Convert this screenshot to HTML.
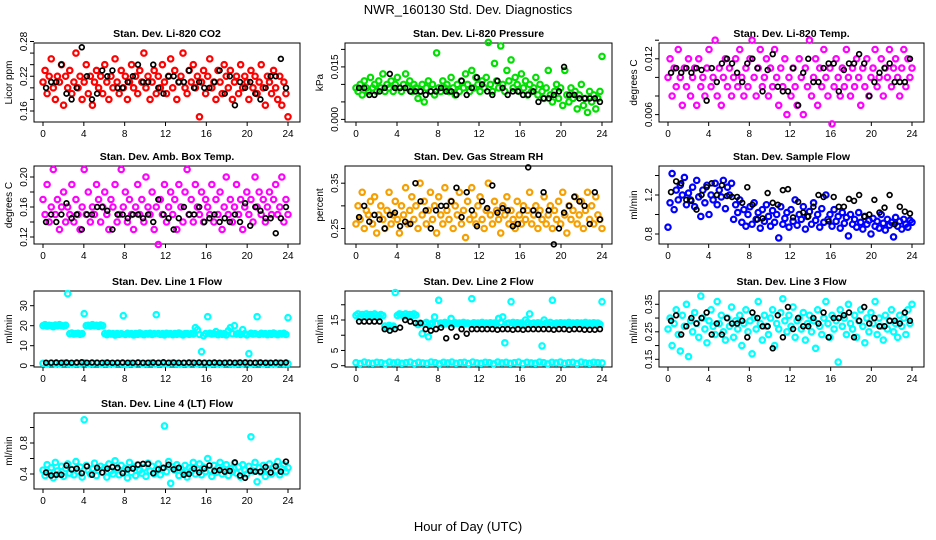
<!DOCTYPE html>
<html><head><meta charset="utf-8"><style>
body{margin:0;background:#fff}
svg{display:block;font-family:"Liberation Sans",sans-serif}
</style></head><body>
<svg id="chart" width="936" height="540" viewBox="0 0 936 540" xmlns="http://www.w3.org/2000/svg">
<rect width="936" height="540" fill="#fff"/>
<text x="468" y="14" text-anchor="middle" font-size="13">NWR_160130  Std. Dev. Diagnostics</text>
<text x="468" y="531" text-anchor="middle" font-size="13">Hour of Day (UTC)</text>
</svg>
<script>
const xTicks=[0,4,8,12,16,20,24];
const co2Color=[0.21,0.23,0.19,0.22,0.25,0.20,0.18,0.22,0.21,0.24,0.17,0.22,0.20,0.23,0.19,0.21,0.26,0.20,0.22,0.18,0.21,0.24,0.19,0.22,0.17,0.21,0.23,0.20,0.22,0.19,0.24,0.21,0.18,0.22,0.20,0.25,0.21,0.19,0.23,0.20,0.22,0.18,0.21,0.24,0.20,0.22,0.19,0.23,0.21,0.26,0.20,0.22,0.18,0.21,0.23,0.19,0.22,0.20,0.24,0.21,0.19,0.22,0.25,0.20,0.23,0.18,0.21,0.22,0.26,0.20,0.19,0.23,0.21,0.24,0.20,0.22,0.15,0.21,0.23,0.19,0.22,0.25,0.20,0.21,0.18,0.23,0.21,0.19,0.24,0.22,0.20,0.23,0.18,0.21,0.22,0.19,0.24,0.20,0.22,0.21,0.18,0.23,0.20,0.22,0.19,0.21,0.24,0.20,0.17,0.22,0.21,0.19,0.23,0.20,0.18,0.22,0.17,0.21,0.19,0.15];
const co2Black=[0.20,0.21,0.21,0.24,0.19,0.18,0.20,0.27,0.22,0.18,0.19,0.23,0.22,0.23,0.20,0.20,0.21,0.22,0.24,0.21,0.21,0.24,0.20,0.19,0.22,0.22,0.21,0.21,0.23,0.20,0.21,0.20,0.20,0.21,0.23,0.19,0.22,0.17,0.21,0.20,0.21,0.19,0.18,0.20,0.22,0.22,0.25,0.20];
const presColor=[0.009,0.008,0.010,0.007,0.011,0.009,0.008,0.012,0.009,0.010,0.008,0.011,0.009,0.013,0.008,0.010,0.009,0.011,0.008,0.010,0.012,0.009,0.008,0.010,0.013,0.009,0.011,0.008,0.010,0.009,0.006,0.008,0.010,0.005,0.009,0.011,0.008,0.010,0.007,0.019,0.009,0.008,0.011,0.009,0.010,0.008,0.012,0.009,0.007,0.010,0.008,0.011,0.009,0.013,0.010,0.008,0.014,0.009,0.012,0.010,0.008,0.011,0.009,0.012,0.022,0.010,0.008,0.016,0.011,0.009,0.021,0.010,0.008,0.014,0.011,0.017,0.009,0.012,0.010,0.008,0.013,0.009,0.011,0.007,0.010,0.008,0.009,0.012,0.007,0.010,0.008,0.006,0.009,0.014,0.007,0.005,0.008,0.010,0.006,0.009,0.004,0.014,0.007,0.005,0.009,0.006,0.008,0.003,0.007,0.010,0.004,0.006,0.002,0.008,0.005,0.007,0.003,0.006,0.008,0.018];
const presBlack=[0.009,0.009,0.007,0.007,0.008,0.009,0.013,0.009,0.009,0.009,0.008,0.008,0.008,0.007,0.008,0.008,0.009,0.008,0.008,0.007,0.011,0.007,0.009,0.012,0.010,0.008,0.007,0.011,0.009,0.007,0.008,0.008,0.007,0.007,0.008,0.005,0.006,0.006,0.007,0.008,0.015,0.007,0.007,0.006,0.006,0.006,0.006,0.005];
const tempColor=[0.010,0.012,0.008,0.011,0.009,0.013,0.010,0.007,0.011,0.009,0.012,0.008,0.010,0.011,0.007,0.012,0.009,0.010,0.008,0.011,0.013,0.009,0.010,0.014,0.008,0.011,0.007,0.010,0.012,0.009,0.011,0.008,0.010,0.012,0.009,0.013,0.010,0.008,0.011,0.009,0.012,0.014,0.010,0.008,0.011,0.013,0.009,0.010,0.012,0.008,0.011,0.009,0.013,0.010,0.007,0.011,0.009,0.012,0.006,0.010,0.008,0.011,0.009,0.007,0.012,0.010,0.006,0.011,0.009,0.014,0.008,0.010,0.012,0.007,0.011,0.009,0.013,0.010,0.008,0.011,0.005,0.009,0.012,0.010,0.008,0.011,0.009,0.013,0.010,0.008,0.011,0.009,0.012,0.010,0.007,0.011,0.009,0.012,0.008,0.010,0.011,0.013,0.009,0.010,0.012,0.008,0.011,0.010,0.013,0.009,0.011,0.012,0.010,0.008,0.011,0.013,0.009,0.012,0.010,0.011];
const tempBlack=[0.0105,0.011,0.0105,0.011,0.0105,0.011,0.0108,0.0075,0.011,0.0095,0.0115,0.012,0.0115,0.0105,0.0095,0.0115,0.012,0.011,0.0085,0.0108,0.0125,0.009,0.0085,0.0085,0.011,0.007,0.0105,0.012,0.0095,0.0095,0.011,0.0115,0.0115,0.0085,0.0108,0.0115,0.0115,0.0125,0.0115,0.008,0.0095,0.0105,0.011,0.0115,0.0095,0.0095,0.0095,0.012];
const boxColor=[0.17,0.15,0.19,0.14,0.16,0.21,0.15,0.17,0.13,0.16,0.18,0.14,0.16,0.15,0.19,0.14,0.17,0.15,0.13,0.16,0.21,0.15,0.18,0.14,0.16,0.15,0.19,0.17,0.14,0.16,0.18,0.15,0.13,0.17,0.16,0.19,0.14,0.15,0.21,0.16,0.18,0.14,0.17,0.15,0.13,0.16,0.19,0.15,0.17,0.14,0.20,0.16,0.15,0.18,0.13,0.16,0.11,0.17,0.15,0.19,0.14,0.16,0.18,0.15,0.17,0.13,0.19,0.16,0.14,0.18,0.21,0.15,0.17,0.14,0.19,0.16,0.15,0.18,0.14,0.17,0.16,0.15,0.19,0.14,0.17,0.15,0.18,0.13,0.16,0.20,0.15,0.17,0.14,0.16,0.19,0.15,0.17,0.13,0.16,0.18,0.15,0.17,0.14,0.20,0.16,0.18,0.15,0.17,0.14,0.16,0.18,0.15,0.17,0.19,0.15,0.16,0.20,0.14,0.17,0.15];
const boxBlack=[0.14,0.15,0.14,0.15,0.165,0.145,0.15,0.13,0.15,0.15,0.16,0.16,0.155,0.13,0.15,0.15,0.145,0.15,0.15,0.145,0.15,0.14,0.17,0.15,0.145,0.13,0.145,0.16,0.15,0.15,0.16,0.14,0.145,0.15,0.14,0.145,0.14,0.15,0.14,0.165,0.135,0.16,0.155,0.145,0.145,0.125,0.145,0.16];
const rhColor=[0.26,0.30,0.27,0.33,0.25,0.29,0.28,0.31,0.26,0.32,0.24,0.28,0.30,0.27,0.25,0.29,0.33,0.26,0.28,0.31,0.27,0.24,0.30,0.28,0.34,0.26,0.29,0.32,0.27,0.30,0.25,0.35,0.28,0.31,0.26,0.29,0.33,0.27,0.30,0.24,0.32,0.28,0.26,0.34,0.29,0.27,0.31,0.25,0.30,0.28,0.33,0.26,0.29,0.23,0.31,0.27,0.34,0.28,0.26,0.30,0.32,0.27,0.25,0.29,0.35,0.28,0.26,0.31,0.29,0.27,0.24,0.30,0.28,0.32,0.26,0.29,0.27,0.25,0.31,0.28,0.26,0.30,0.27,0.29,0.33,0.26,0.28,0.30,0.25,0.29,0.27,0.32,0.26,0.28,0.30,0.25,0.29,0.27,0.31,0.26,0.33,0.28,0.24,0.30,0.27,0.29,0.32,0.26,0.28,0.31,0.25,0.29,0.33,0.27,0.30,0.26,0.32,0.28,0.27,0.25];
const rhBlack=[0.275,0.30,0.265,0.28,0.27,0.25,0.28,0.285,0.255,0.265,0.26,0.35,0.31,0.29,0.25,0.29,0.30,0.30,0.31,0.34,0.275,0.33,0.29,0.255,0.31,0.295,0.345,0.285,0.295,0.29,0.255,0.26,0.29,0.385,0.29,0.28,0.33,0.29,0.215,0.25,0.285,0.30,0.32,0.31,0.30,0.26,0.33,0.27];
const flowColor=[0.87,1.12,1.42,1.05,1.25,1.15,1.30,1.20,1.38,1.10,1.22,1.15,1.28,1.08,1.35,1.18,0.98,1.25,1.12,1.30,1.00,1.20,1.15,1.32,1.10,1.25,1.18,1.35,1.06,1.28,1.20,1.32,0.95,1.10,1.02,1.15,0.92,1.05,0.88,1.00,1.08,0.90,1.12,0.95,1.02,0.86,1.05,0.93,1.10,0.98,0.88,1.04,0.92,1.00,0.76,1.08,0.90,0.96,1.02,0.87,1.05,0.93,1.15,0.89,1.00,0.95,1.08,0.85,0.98,1.03,0.90,1.12,0.94,1.00,0.87,1.06,0.92,1.20,0.95,1.00,0.88,1.05,0.93,0.98,0.86,1.02,0.91,0.97,0.78,1.00,0.90,0.95,0.87,1.02,0.92,0.85,0.98,0.90,0.94,0.80,0.96,0.88,0.93,0.86,1.00,0.91,0.84,0.95,0.89,0.92,0.77,0.97,0.88,0.93,0.85,0.95,0.90,0.87,0.94,0.92];
const flowBlack=[1.23,1.34,1.32,1.15,1.14,1.05,1.20,1.28,1.32,1.20,1.30,1.19,1.18,1.18,1.12,1.28,1.10,0.95,0.96,1.22,1.12,1.10,1.25,1.26,0.97,1.13,1.02,0.98,1.08,1.20,1.18,0.93,1.18,1.08,1.08,1.16,1.14,1.20,0.98,1.00,1.15,1.02,1.07,1.20,0.90,1.08,1.03,1.01];
const line1Upper=[20,20.5,19.8,20.2,20,19.5,20.3,20,20.5,20,19.8,20.2,36,16,16.3,15.8,16,16.2,15.7,16,26,20,20.2,19.8,20.5,20,20.2,19.7,20.3,20,16,15.5,16.2,15.8,16,15.3,16.1,15.7,16,25,15.6,16.2,15.8,16,15.4,16.1,15.7,16.3,15.9,15.5,16,15.8,16.2,15.6,16,25.5,16.1,15.7,16,15.4,16.2,15.8,16,15.5,16.1,15.7,16.3,15.9,15.4,16,16.1,15.7,16,15.8,19,18,15.6,7,15,16,24.5,16.2,15.8,16,17,15.5,16.2,15.7,16,15.4,17.5,19,16,20,15.8,16.2,15.6,18,16,15.4,6,16.2,15.8,16,24.5,15.6,16.2,15.8,16,15.5,16.1,15.7,16.3,15.9,15.5,16,15.8,16.2,15.6,24];
const line1Lower=[1.2,0.8,1.4,1.0,0.9,1.3,1.1,0.7,1.2,1.0,1.4,0.9,1.1,1.3,0.8,1.2,1.0,0.9,1.3,1.1,0.6,1.2,1.0,1.4,0.9,1.1,1.3,0.8,1.2,1.0,0.9,1.3,1.1,0.7,1.2,1.0,1.4,0.9,1.1,1.3,0.8,1.2,1.0,0.9,1.3,1.1,0.7,1.2,1.0,1.4,0.9,1.1,1.3,0.8,1.2,1.0,0.9,1.3,1.1,1.0];
const line1Black=[1.5,1.5,1.6,1.5,1.6,1.5,1.6,1.7,1.5,1.6,1.5,1.5,1.6,1.5,1.5,1.6,1.5,1.5,1.6,1.5,1.5,1.6,1.5,1.7,1.5,1.6,1.5,1.5,1.6,1.5,1.6,1.5,1.5,1.6,1.5,1.5,1.6,1.5,1.6,1.6,1.5,1.5,1.6,1.5,1.5,1.6,1.5,1.6];
const line2Upper=[16.5,17,16,16.8,16.2,17,16.5,16.8,16.3,17,16.6,16,16.8,16.4,13,12.5,13.2,12.8,13,24,16.5,17,16.8,16.2,17,16.5,16.8,16.3,17,16.6,13.5,14,10.5,13.8,14.2,9.5,13.6,14,16,13.8,21.5,14,13.6,14.2,13.8,14,15.5,13.7,14.1,13.9,14,13.6,14.2,13.8,14,13.7,22,14.1,13.9,14,13.6,14.2,13.8,14,13.7,14.1,13.9,14,13.6,15.5,14.2,16,7.5,13.8,14,21,14.2,13.7,14.1,13.9,14,13.6,15,14.2,17,13.8,14,13.7,14.1,13.9,6.5,15,14,13.6,14.2,21.5,13.8,14,13.7,14.1,13.9,14,13.6,14.2,13.8,14,13.7,14.1,13.9,14,13.6,14.2,13.8,14,13.7,14.1,13.9,14,13.6,21];
const line2Lower=[1.0,0.7,1.2,0.9,0.8,1.1,1.0,0.6,1.2,0.9,1.1,0.8,1.0,1.2,0.7,1.1,0.9,0.8,1.2,1.0,0.6,1.1,0.9,1.2,0.8,1.0,1.1,0.7,1.2,0.9,0.8,1.1,1.0,0.6,1.2,0.9,1.1,0.8,1.0,1.2,0.7,1.1,0.9,0.8,1.2,1.0,0.6,1.1,0.9,1.2,0.8,1.0,1.1,0.7,1.2,0.9,0.8,1.1,1.0,0.9];
const line2Black=[14.5,14.5,14.5,14.5,14.5,12,11.5,12,12.5,15,14.5,14,14,12,11.5,12,12.5,9,12.5,9.5,12,10.5,12,12,12,12,12,11.8,12,12,11.8,12,11.8,12,12,12,12,12,11.8,12,12,11.8,12,12,11.8,11.8,11.8,12];
const line3Color=[0.26,0.30,0.20,0.28,0.33,0.24,0.18,0.31,0.27,0.35,0.16,0.29,0.25,0.32,0.28,0.23,0.38,0.30,0.26,0.21,0.29,0.33,0.27,0.24,0.36,0.28,0.31,0.25,0.22,0.30,0.27,0.34,0.23,0.29,0.26,0.31,0.20,0.28,0.33,0.25,0.29,0.17,0.30,0.26,0.36,0.28,0.22,0.31,0.27,0.24,0.30,0.33,0.20,0.28,0.26,0.32,0.37,0.29,0.25,0.31,0.27,0.34,0.23,0.29,0.30,0.26,0.32,0.22,0.28,0.31,0.25,0.29,0.19,0.33,0.27,0.24,0.30,0.36,0.28,0.23,0.31,0.26,0.29,0.14,0.33,0.27,0.30,0.24,0.35,0.28,0.26,0.31,0.23,0.29,0.33,0.27,0.21,0.30,0.25,0.32,0.28,0.36,0.24,0.30,0.27,0.22,0.31,0.26,0.29,0.33,0.25,0.28,0.23,0.31,0.27,0.30,0.24,0.33,0.28,0.35];
const line3Black=[0.29,0.31,0.24,0.27,0.30,0.28,0.30,0.32,0.24,0.28,0.24,0.30,0.28,0.28,0.29,0.23,0.32,0.30,0.27,0.27,0.19,0.31,0.23,0.34,0.26,0.30,0.27,0.27,0.30,0.28,0.32,0.23,0.30,0.30,0.31,0.32,0.23,0.29,0.34,0.28,0.30,0.27,0.27,0.29,0.29,0.28,0.32,0.29];
const line4Color=[0.45,0.38,0.52,0.42,0.48,0.35,0.55,0.44,0.40,0.50,0.37,0.47,0.53,0.41,0.46,0.39,0.56,0.43,0.49,0.36,1.10,0.51,0.44,0.40,0.47,0.54,0.38,0.45,0.50,0.42,0.48,0.36,0.53,0.44,0.40,0.57,0.46,0.39,0.51,0.43,0.47,0.35,0.55,0.42,0.49,0.38,0.52,0.45,0.41,0.48,0.37,0.54,0.44,0.50,0.40,0.46,0.53,0.39,0.47,1.02,0.43,0.56,0.28,0.49,0.45,0.52,0.38,0.47,0.42,0.51,0.36,0.48,0.44,0.55,0.40,0.46,0.53,0.39,0.49,0.43,0.60,0.45,0.37,0.51,0.42,0.48,0.55,0.40,0.46,0.52,0.38,0.47,0.43,0.54,0.41,0.49,0.36,0.52,0.45,0.40,0.50,0.88,0.44,0.55,0.30,0.48,0.42,0.51,0.37,0.46,0.53,0.40,0.49,0.44,0.56,0.39,0.47,0.52,0.43,0.48];
const line4Black=[0.42,0.38,0.39,0.39,0.51,0.46,0.47,0.41,0.50,0.39,0.48,0.42,0.47,0.49,0.48,0.41,0.46,0.47,0.52,0.53,0.53,0.41,0.46,0.48,0.52,0.46,0.48,0.39,0.40,0.47,0.42,0.47,0.51,0.44,0.45,0.43,0.44,0.55,0.38,0.35,0.44,0.43,0.43,0.49,0.42,0.50,0.43,0.56];
const co2Ticks=[0.16,0.18,0.20,0.22,0.24,0.26,0.28], co2Labels=["0.16","","","0.22","","","0.28"];
const presTicks=[0,0.005,0.010,0.015,0.020], presLabels=["0.000","","","0.015",""];
const tempTicks=[0.006,0.008,0.010,0.012,0.014], tempLabels=["0.006","","","0.012",""];
const boxTicks=[0.12,0.14,0.16,0.18,0.20], boxLabels=["0.12","","0.16","","0.20"];
const rhTicks=[0.25,0.30,0.35], rhLabels=["0.25","","0.35"];
const flowTicks=[0.8,1.0,1.2,1.4], flowLabels=["0.8","","1.2",""];
const l1Ticks=[0,10,20,30], l1Labels=["0","10","20","30"];
const l2Ticks=[0,5,10,15,20], l2Labels=["0","5","","15",""];
const l3Ticks=[0.15,0.20,0.25,0.30,0.35], l3Labels=["0.15","","0.25","","0.35"];
const l4Ticks=[0.4,0.6,0.8,1.0], l4Labels=["0.4","","0.8",""];

const NS="http://www.w3.org/2000/svg";
const svg=document.getElementById('chart');
function mk(tag,attrs,parent){const e=document.createElementNS(NS,tag);for(const k in attrs)e.setAttribute(k,attrs[k]);(parent||svg).appendChild(e);return e;}
const cols=[[34,300,43,288],[345,612,356,602],[659,924,668,912]];
const rows=[[43,122],[166,244],[291,367],[413,489]];
const panels=[
{key:'co2',title:'Stan. Dev. Li-820 CO2',yt:'Licor ppm',c:0,r:0,v1:0.28,p1:41.5,v2:0.16,p2:111,ticks:co2Ticks,labels:co2Labels,series:[[co2Color,'#ff0000']],black:co2Black},
{key:'pressure',title:'Stan. Dev. Li-820 Pressure',yt:'kPa',c:1,r:0,v1:0.015,p1:66.9,v2:0,p2:119.4,ticks:presTicks,labels:presLabels,series:[[presColor,'#00e000']],black:presBlack},
{key:'temp',title:'Stan. Dev. Li-820 Temp.',yt:'degrees C',c:2,r:0,v1:0.012,p1:58.8,v2:0.006,p2:114.6,ticks:tempTicks,labels:tempLabels,series:[[tempColor,'#ff00ff']],black:tempBlack},
{key:'box-temp',title:'Stan. Dev. Amb. Box Temp.',yt:'degrees C',c:0,r:1,v1:0.20,p1:177,v2:0.12,p2:237,ticks:boxTicks,labels:boxLabels,series:[[boxColor,'#ff00ff']],black:boxBlack},
{key:'rh',title:'Stan. Dev. Gas Stream RH',yt:'percent',c:1,r:1,v1:0.35,p1:183.2,v2:0.25,p2:228.5,ticks:rhTicks,labels:rhLabels,series:[[rhColor,'#f5a000']],black:rhBlack},
{key:'sample-flow',title:'Stan. Dev. Sample Flow',yt:'ml/min',c:2,r:1,v1:1.2,p1:195,v2:0.8,p2:234,ticks:flowTicks,labels:flowLabels,series:[[flowColor,'#0000ff']],black:flowBlack},
{key:'line1',title:'Stan. Dev. Line 1 Flow',yt:'ml/min',c:0,r:2,v1:30,p1:305.7,v2:0,p2:365.7,ticks:l1Ticks,labels:l1Labels,series:[[line1Upper,'#00ffff'],[line1Lower,'#00ffff']],black:line1Black},
{key:'line2',title:'Stan. Dev. Line 2 Flow',yt:'ml/min',c:1,r:2,v1:15,p1:320,v2:0,p2:365.7,ticks:l2Ticks,labels:l2Labels,series:[[line2Upper,'#00ffff'],[line2Lower,'#00ffff']],black:line2Black},
{key:'line3',title:'Stan. Dev. Line 3 Flow',yt:'ml/min',c:2,r:2,v1:0.35,p1:304.3,v2:0.15,p2:359.3,ticks:l3Ticks,labels:l3Labels,series:[[line3Color,'#00ffff']],black:line3Black},
{key:'line4',title:'Stan. Dev. Line 4 (LT) Flow',yt:'ml/min',c:0,r:3,v1:0.4,p1:474,v2:0.8,p2:443,ticks:l4Ticks,labels:l4Labels,series:[[line4Color,'#00ffff']],black:line4Black}
];
panels.forEach(p=>{
  const [bl,br,x0,x24]=cols[p.c], [bt,bb]=rows[p.r];
  const xs=h=>x0+(x24-x0)*h/24;
  const ys=v=>p.p2+(v-p.v2)*(p.p1-p.p2)/(p.v1-p.v2);
  const g=mk('g',{});
  
  
  const t=mk('text',{x:(bl+br)/2,y:bt-6,'text-anchor':'middle','font-size':'10.5','font-weight':'bold'},g);
  
  
  t.textContent=p.title;
  const yl=mk('text',{x:0,y:0,'text-anchor':'middle','font-size':'10',transform:`translate(${bl-22},${(bt+bb)/2}) rotate(-90)`},g);
  
  
  yl.textContent=p.yt;
  const box=mk('rect',{x:bl,y:bt,width:br-bl,height:bb-bt,fill:'none',stroke:'#000','stroke-width':1},g);
  
  
  xTicks.forEach(h=>{
    mk('line',{x1:xs(h),x2:xs(h),y1:bb,y2:bb+4,stroke:'#000'},g);
    const l=mk('text',{x:xs(h),y:bb+15,'text-anchor':'middle','font-size':'10'},g);
    
    
    l.textContent=String(h);
  });
  p.ticks.forEach((v,i)=>{
    mk('line',{x1:bl-4,x2:bl,y1:ys(v),y2:ys(v),stroke:'#000'},g);
    if(p.labels[i]){
      const l=mk('text',{x:0,y:0,'text-anchor':'middle','font-size':'10',transform:`translate(${bl-7},${ys(v)}) rotate(-90)`},g);
      
      
      l.textContent=p.labels[i];
    }
  });
  p.series.forEach(([arr,col])=>{
    const n=arr.length;
    arr.forEach((v,i)=>{
      const c=mk('circle',{cx:xs(i*24/(n-1)),cy:ys(v),r:2.7,fill:'none',stroke:col,'stroke-width':2.2},g);
      
      
    });
  });
  p.black.forEach((v,i)=>{
    const c=mk('circle',{cx:xs((i+1)*0.5-0.2),cy:ys(v),r:2.4,fill:'none',stroke:'#000','stroke-width':1.7},g);
    
    
  });
});
</script>
</body></html>
